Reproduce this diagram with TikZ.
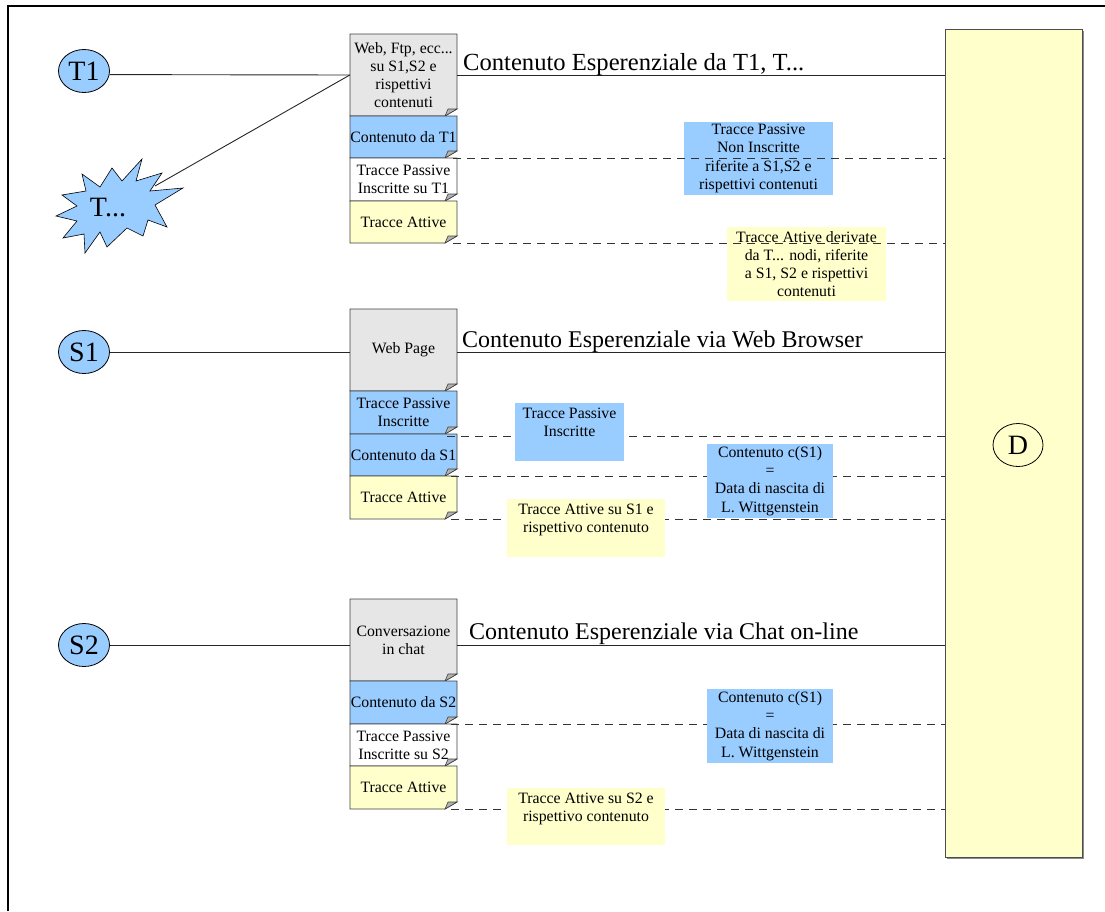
\documentclass[tikz,border=0pt]{standalone}
\usepackage{fontspec}
\setmainfont{Liberation Serif}
\usetikzlibrary{shapes.geometric}
\definecolor{lblue}{HTML}{99CCFF}
\definecolor{lyel}{HTML}{FFFFCC}
\definecolor{lgray}{HTML}{E6E6E6}
\definecolor{fgray}{HTML}{B3B3B3}
\newcommand\smallfnt{\fontsize{15.8}{18.2}\selectfont}
\newcommand\bigfnt{\fontsize{24}{28}\selectfont}
\newcommand\hugefnt{\fontsize{28}{32}\selectfont}
\newcommand\docbox[5]{%
 \path[fill=#4,draw=black!75,line width=0.8pt] (350,#2) -- (457,#2) -- (457,#3-7) -- (445,#3) -- (350,#3) -- cycle;
 \path[fill=fgray,draw=black!75,line width=0.6pt] (445,#3) -- (448,#3-7) -- (457,#3-7) -- cycle;
 \node[doctext,minimum height={(#3-#2)*1pt}] (#1) at (403.5,{(#2+#3)/2}) {#5};
}
\tikzset{
 doctext/.style={inner sep=0pt, minimum width=107pt, align=center, font=\smallfnt},
 ell/.style={ellipse, draw=black, line width=0.8pt, fill=lblue, minimum width=51pt, minimum height=43pt, inner sep=0pt, font=\hugefnt},
 conn/.style={draw=black!85, line width=0.9pt},
 dl/.style={draw=black!80, dash pattern=on 8pt off 6pt, line width=0.8pt},
 lbox/.style={inner sep=0pt, align=center, font=\smallfnt},
 ltxt/.style={inner sep=0pt, align=center, font=\smallfnt, anchor=north, yshift=-5pt},
 head/.style={anchor=base west, inner sep=0pt, font=\bigfnt},
}
\begin{document}
\begin{tikzpicture}[x=1pt,y=-1pt]
\useasboundingbox (0,0) rectangle (1105,911);
% frame
\draw[line width=1.3pt] (8,911) -- (8,6) -- (1105,6);

% big D box
\fill[black!45] (947,31) rectangle (1084,859);
\node[draw=black!70, line width=0.8pt, fill=lyel, minimum width=137pt, minimum height=828pt, inner sep=0pt] (Dbox) at (1013.5,443) {};
\node[ellipse, draw=black, line width=0.8pt, minimum width=50pt, minimum height=43pt, inner sep=0pt, font=\hugefnt] (D) at (1018,445) {D};

% document boxes
\docbox{webT}{34}{116}{lgray}{Web, Ftp, ecc...\\su S1,S2 e\\rispettivi\\contenuti}
\docbox{cT1}{116}{158}{lblue}{Contenuto da T1}
\docbox{pT1}{158}{201}{white}{Tracce Passive\\Inscritte su T1}
\docbox{aT1}{201}{243}{lyel}{Tracce Attive}

\docbox{web}{309}{391}{lgray}{Web Page}
\docbox{pS1}{391}{434}{lblue}{Tracce Passive\\Inscritte}
\docbox{cS1}{434}{476}{lblue}{Contenuto da S1}
\docbox{aS1}{476}{519}{lyel}{Tracce Attive}

\docbox{chat}{599}{681}{lgray}{Conversazione\\in chat}
\docbox{cS2}{681}{724}{lblue}{Contenuto da S2}
\docbox{pS2}{724}{766}{white}{Tracce Passive\\Inscritte su S2}
\docbox{aS2}{766}{809}{lyel}{Tracce Attive}

% source nodes
\node[ell] (T1) at (84,71) {T1};
\node[ell] (S1) at (84,352) {S1};
\node[ell] (S2) at (84,645) {S2};
\draw[fill=lblue, draw=black, line width=0.6pt]
 (142,159) -- (136,181) -- (162,173) -- (150,191) -- (183,188) -- (155,205)
 -- (167,227) -- (148,220) -- (143,236) -- (127,228) -- (107,247) -- (100,232)
 -- (85,253) -- (84,234) -- (63,238) -- (77,221) -- (56,216) -- (77,206)
 -- (62,195) -- (86,191) -- (82,174) -- (100,187) -- (112,168) -- (122,181) -- cycle;
\node[inner sep=0pt, font=\hugefnt] (Tdots) at (108,208) {T...};
\coordinate (Tedge) at (155,186);

% connectors from sources
\draw[conn] (T1.-8) -- (webT.west);
\draw[conn] (Tedge) -- (webT.west);
\draw[conn] (S1) -- (S1 -| web.west);
\draw[conn] (S2) -- (S2 -| chat.west);

% experiential content lines
\draw[conn] (webT.east) -- (webT.east -| Dbox.west);
\draw[conn] (S1 -| web.east) -- (S1 -| Dbox.west);
\draw[conn] (S2 -| chat.east) -- (S2 -| Dbox.west);
\node[head, font=\fontsize{24.6}{28}\selectfont] (h1) at (463,70) {Contenuto Esperenziale da T1, T...};
\node[head] (h2) at (462,347) {Contenuto Esperenziale via Web Browser};
\node[head] (h3) at (469,639) {Contenuto Esperenziale via Chat on-line};

% labels under dashed lines (top group)
\node[lbox, fill=lblue, minimum width=149pt, minimum height=73pt] (L1) at (758.5,158.5) {Tracce Passive\\Non Inscritte\\riferite a S1,S2 e\\rispettivi contenuti};
\node[lbox, fill=lyel, minimum width=159pt, minimum height=74pt] (L2) at (806.5,264) {Tracce Attive derivate\\da T... nodi, riferite\\a S1, S2 e rispettivi\\contenuti};

% dashed lines
\draw[dl] ([xshift=-4pt]cT1.south east) -- (cT1.south east -| Dbox.west);
\draw[dl] ([xshift=-4pt]aT1.south east) -- (aT1.south east -| Dbox.west);
\draw[dl] ([xshift=-10pt,yshift=-2pt]pS1.south east) -- ([yshift=-2pt]pS1.south east -| Dbox.west);
\draw[dl] ([xshift=-6pt]cS1.south east) -- (cS1.south east -| Dbox.west);
\draw[dl] ([xshift=-6pt]aS1.south east) -- (aS1.south east -| Dbox.west);
\draw[dl] ([xshift=-6pt]cS2.south east) -- (cS2.south east -| Dbox.west);
\draw[dl] ([xshift=-6pt]aS2.south east) -- (aS2.south east -| Dbox.west);

% labels over dashed lines
\node[lbox, fill=lblue, minimum width=109pt, minimum height=58pt] (L3) at (569.5,432) {};
\node[ltxt] (L3t) at (L3.north) {Tracce Passive\\Inscritte};
\node[lbox, fill=lblue, minimum width=126pt, minimum height=74pt] (L4) at (770,481) {Contenuto c(S1)\\=\\Data di nascita di\\L. Wittgenstein};
\node[lbox, fill=lyel, minimum width=158pt, minimum height=58pt] (L5) at (586,528) {};
\node[ltxt] (L5t) at (L5.north) {Tracce Attive su S1 e\\rispettivo contenuto};
\node[lbox, fill=lblue, minimum width=126pt, minimum height=74pt] (L6) at (770,726) {Contenuto c(S1)\\=\\Data di nascita di\\L. Wittgenstein};
\node[lbox, fill=lyel, minimum width=158pt, minimum height=57pt] (L7) at (586,816.5) {};
\node[ltxt] (L7t) at (L7.north) {Tracce Attive su S2 e\\rispettivo contenuto};
\end{tikzpicture}
\end{document}
